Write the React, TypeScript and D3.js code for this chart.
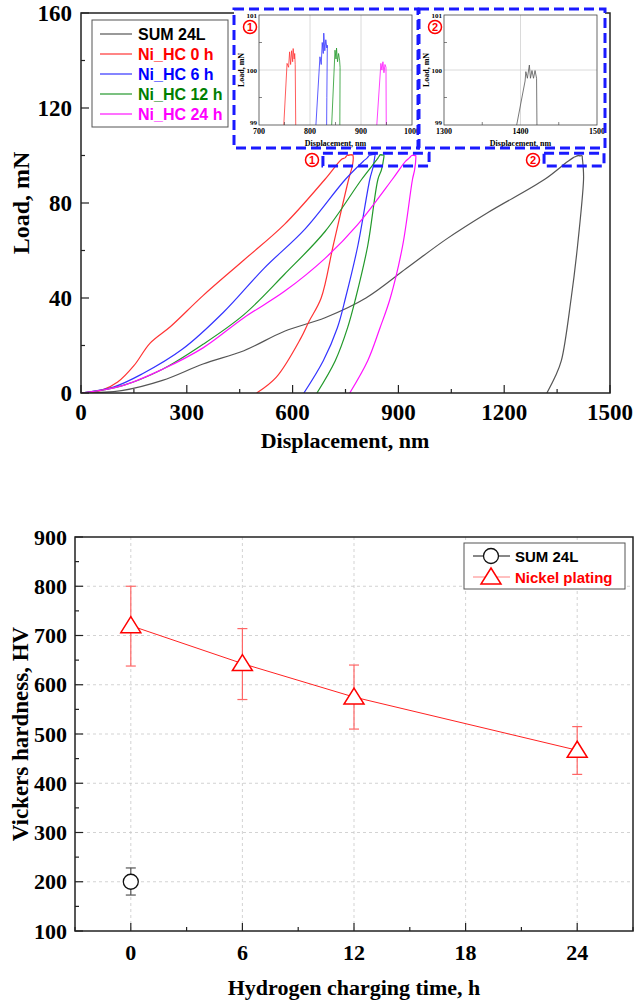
import React, { useEffect, useRef } from 'react';
import * as d3 from 'd3';

type Pt = [number, number];

// load-displacement curves (nm, mN), loading -> peak -> unloading
const sum24L: Pt[] = [
  [0, 0], [115, 1], [231, 5.3], [346, 12.2], [462, 17.8], [577, 26], [692, 31.7], [808, 40],
  [923, 52.5], [1038, 65], [1154, 76], [1315, 90], [1380, 97.5], [1395, 99], [1406, 99.8],
  [1407, 99.97], [1409, 99.85], [1411.6, 100.09], [1413, 99.85], [1415, 99.99], [1417, 99.85],
  [1419, 99.99], [1421, 99.85], [1421.5, 99], [1424, 95], [1425, 90], [1408, 62], [1390, 40],
  [1362, 13.6], [1344, 6.7], [1321, 0],
];
const niHC0: Pt[] = [
  [0, 0], [58, 1.1], [104, 4.6], [150, 11.5], [196, 21], [254, 28], [346, 41], [462, 56],
  [577, 71], [692, 90], [740, 98.5], [748.6, 99], [755, 100.12], [758, 100.05], [760, 100.33],
  [762, 100.1], [764, 100.35], [766, 100.15], [767, 100.39], [769, 100.2], [770, 100.3],
  [771, 100.1], [772, 99], [770, 96], [759, 90], [715, 62], [681, 40], [646, 30], [623, 23],
  [554, 6.7], [498, 0],
];
const niHC6: Pt[] = [
  [0, 0], [92, 2.5], [173, 8], [288, 18.5], [404, 34], [519, 52.5], [635, 69], [750, 90],
  [800, 97.5], [811.6, 99], [819.5, 100.24], [822, 100.1], [824, 100.5], [826, 100.3],
  [827, 100.67], [829, 100.35], [831, 100.55], [833, 100.4], [834, 100.45], [833, 99.5],
  [832.6, 99], [828, 95], [819, 90], [785, 62], [750, 40], [727, 27.5], [687, 13.6], [632, 0],
];
const niHC12: Pt[] = [
  [0, 0], [115, 3], [231, 10], [346, 20.5], [462, 33], [577, 50], [692, 68], [796, 90],
  [835, 97.5], [842.5, 99], [849, 100.36], [851, 100.2], [852, 100.4], [854, 100.15],
  [856, 100.3], [858, 100.18], [859, 100.05], [858.5, 99], [852, 94], [842, 90], [813, 62],
  [779, 40], [756, 27.5], [721, 13.6], [669, 0],
];
const niHC24: Pt[] = [
  [0, 0], [115, 3], [231, 10], [346, 19], [462, 31.7], [577, 42.8], [692, 56.7], [785, 71],
  [883, 90], [920, 97.5], [931, 99], [939, 100.12], [941, 100.0], [943, 100.15], [945, 99.95],
  [947, 100.1], [949, 100.05], [949.5, 99], [946, 94], [940, 90], [912, 62], [877, 40],
  [848, 27.5], [813, 13.6], [762, 0],
];
const curveNames = ['SUM 24L', 'Ni_HC 0 h', 'Ni_HC 6 h', 'Ni_HC 12 h', 'Ni_HC 24 h'];
const curveData = [sum24L, niHC0, niHC6, niHC12, niHC24];
const curveColors = ['#555555', '#ff3333', '#3333ff', '#22992a', '#ff11ff'];
const legendColors = ['#000000', '#ff0000', '#0000ff', '#008000', '#ff00ff'];

// hardness
const chargeTime = [0, 6, 12, 24];
const nickelHV = [720, 643, 575, 467];
const nickelLow = [638, 570, 510, 418];
const nickelHigh = [800, 714, 640, 515];
const sumTime = [0];
const sumHV = [200];
const sumLow = [173];
const sumHigh = [228];

const serif = '"Liberation Serif", "Times New Roman", serif';
const sans = '"Liberation Sans", Arial, sans-serif';

const App: React.FC = () => {
  const svgRef = useRef<SVGSVGElement>(null);

  useEffect(() => {
    if (!svgRef.current) return;
    const svg = d3.select(svgRef.current);
    svg.selectAll('*').remove();

    // ---------- top: load-displacement ----------
    const x = d3.scaleLinear().domain([0, 1500]).range([81, 610]);
    const y = d3.scaleLinear().domain([0, 160]).range([393, 13]);
    const top = svg.append('g');

    top.append('clipPath').attr('id', 'mainclip').append('rect')
      .attr('x', 81).attr('y', 13).attr('width', 529).attr('height', 380);

    const line = d3.line<Pt>().x(d => x(d[0])).y(d => y(d[1])).curve(d3.curveCatmullRom.alpha(0.5));
    curveData.forEach((c, i) => {
      top.append('path').attr('d', line(c) || '').attr('fill', 'none')
        .attr('stroke', curveColors[i]).attr('stroke-width', 1.2)
        .attr('clip-path', 'url(#mainclip)');
    });

    // ticks (inward)
    d3.range(0, 1501, 150).forEach(v => {
      const major = v % 300 === 0;
      top.append('line').attr('x1', x(v)).attr('x2', x(v)).attr('y1', 393).attr('y2', 393 - (major ? 8 : 4))
        .attr('stroke', '#222').attr('stroke-width', 1.2);
      if (major) top.append('text').attr('x', x(v)).attr('y', 420).attr('text-anchor', 'middle')
        .attr('font-family', serif).attr('font-weight', 'bold').attr('font-size', 23).text(v);
    });
    d3.range(0, 161, 20).forEach(v => {
      const major = v % 40 === 0;
      top.append('line').attr('x1', 81).attr('x2', 81 + (major ? 8 : 4)).attr('y1', y(v)).attr('y2', y(v))
        .attr('stroke', '#222').attr('stroke-width', 1.2);
      if (major) top.append('text').attr('x', 72).attr('y', y(v) + 8).attr('text-anchor', 'end')
        .attr('font-family', serif).attr('font-weight', 'bold').attr('font-size', 23).text(v);
    });
    top.append('rect').attr('x', 81).attr('y', 13).attr('width', 529).attr('height', 380)
      .attr('fill', 'none').attr('stroke', '#222').attr('stroke-width', 1.5);

    top.append('text').attr('x', 345).attr('y', 448).attr('text-anchor', 'middle')
      .attr('font-family', serif).attr('font-weight', 'bold').attr('font-size', 22).text('Displacement, nm');
    top.append('text').attr('transform', 'translate(29,203) rotate(-90)').attr('text-anchor', 'middle')
      .attr('font-family', serif).attr('font-weight', 'bold').attr('font-size', 24).text('Load, mN');

    // legend
    top.append('rect').attr('x', 92).attr('y', 20).attr('width', 136).attr('height', 107)
      .attr('fill', 'white').attr('stroke', '#555').attr('stroke-width', 1);
    curveNames.forEach((n, i) => {
      const ly = 34 + i * 20;
      top.append('line').attr('x1', 100).attr('x2', 132).attr('y1', ly).attr('y2', ly)
        .attr('stroke', curveColors[i]).attr('stroke-width', 1.2);
      top.append('text').attr('x', 138).attr('y', ly + 6).attr('font-family', sans)
        .attr('font-weight', 'bold').attr('font-size', 16).attr('fill', legendColors[i]).text(n);
    });

    const circled = (cx: number, cy: number, label: string) => {
      top.append('circle').attr('cx', cx).attr('cy', cy).attr('r', 6.5)
        .attr('fill', 'white').attr('stroke', '#ff0000').attr('stroke-width', 1.5);
      top.append('text').attr('x', cx).attr('y', cy + 4).attr('text-anchor', 'middle')
        .attr('font-family', sans).attr('font-weight', 'bold').attr('font-size', 11)
        .attr('fill', '#ff0000').text(label);
    };
    const blueDash = (x0: number, y0: number, x1: number, y1: number) => {
      top.append('rect').attr('x', x0).attr('y', y0).attr('width', x1 - x0).attr('height', y1 - y0)
        .attr('fill', 'none').attr('stroke', '#1a1aff').attr('stroke-width', 3)
        .attr('stroke-dasharray', '10,5');
    };

    // zoom markers on main plot
    blueDash(x(686), y(101), x(987), y(95.6));
    circled(312, 160, '1');
    blueDash(x(1313), y(101), x(1483), y(95.6));
    circled(533, 160, '2');

    // insets
    const inset = (bx0: number, bx1: number, id: string, domain: [number, number],
      xticks: number[], xminor: number[], grid: number[], label: string) => {
      const g = top.append('g');
      g.append('rect').attr('x', bx0).attr('y', 9).attr('width', bx1 - bx0).attr('height', 139)
        .attr('fill', 'white');
      const px0 = bx0 + 25, px1 = bx0 + 178;
      const ix = d3.scaleLinear().domain(domain).range([px0, px1]);
      const iy = d3.scaleLinear().domain([99, 101]).range([125, 15]);
      g.append('clipPath').attr('id', id).append('rect')
        .attr('x', px0).attr('y', 15).attr('width', px1 - px0).attr('height', 110);
      grid.forEach(v => g.append('line').attr('x1', ix(v)).attr('x2', ix(v)).attr('y1', 15).attr('y2', 125)
        .attr('stroke', '#d0d0d0').attr('stroke-width', 0.8));
      g.append('line').attr('x1', px0).attr('x2', px1).attr('y1', iy(100)).attr('y2', iy(100))
        .attr('stroke', '#d0d0d0').attr('stroke-width', 0.8);
      const il = d3.line<Pt>().x(d => ix(d[0])).y(d => iy(d[1]));
      curveData.forEach((c, i) => {
        g.append('path').attr('d', il(c) || '').attr('fill', 'none')
          .attr('stroke', curveColors[i]).attr('stroke-width', 0.8)
          .attr('clip-path', `url(#${id})`);
      });
      xminor.forEach(v => g.append('line').attr('x1', ix(v)).attr('x2', ix(v)).attr('y1', 125).attr('y2', 122)
        .attr('stroke', '#333').attr('stroke-width', 0.6));
      [99.5, 100.5].forEach(v => g.append('line').attr('x1', px0).attr('x2', px0 + 3).attr('y1', iy(v)).attr('y2', iy(v))
        .attr('stroke', '#333').attr('stroke-width', 0.6));
      xticks.forEach(v => g.append('text').attr('x', ix(v)).attr('y', 134).attr('text-anchor', 'middle')
        .attr('font-family', serif).attr('font-weight', 'bold').attr('font-size', 8).text(v));
      [99, 100, 101].forEach(v => g.append('text').attr('x', px0 - 2).attr('y', iy(v) + (v === 99 ? 0 : 3))
        .attr('text-anchor', 'end').attr('font-family', serif).attr('font-weight', 'bold')
        .attr('font-size', 7).text(v));
      g.append('rect').attr('x', px0).attr('y', 15).attr('width', px1 - px0).attr('height', 110)
        .attr('fill', 'none').attr('stroke', '#444').attr('stroke-width', 0.8);
      g.append('text').attr('x', (px0 + px1) / 2).attr('y', 146).attr('text-anchor', 'middle')
        .attr('font-family', serif).attr('font-weight', 'bold').attr('font-size', 8).text('Displacement, nm');
      g.append('text').attr('transform', `translate(${bx0 + 10},70) rotate(-90)`).attr('text-anchor', 'middle')
        .attr('font-family', serif).attr('font-weight', 'bold').attr('font-size', 8).text('Load, mN');
      blueDash(bx0, 9, bx1, 148);
      circled(bx0 + 16, 27, label);
    };
    inset(234, 418, 'in1', [700, 1000], [700, 800, 900, 1000], [750, 850, 950], [800, 900], '1');
    inset(419, 605, 'in2', [1300, 1500], [1300, 1400, 1500], [1350, 1450], [1400], '2');

    // ---------- bottom: hardness ----------
    const bx = d3.scaleLinear().domain([-3, 27]).range([75, 633]);
    const by = d3.scaleLinear().domain([100, 900]).range([931, 537]);
    const bot = svg.append('g');

    [0, 6, 12, 18, 24].forEach(v => bot.append('line').attr('x1', bx(v)).attr('x2', bx(v))
      .attr('y1', 537).attr('y2', 931).attr('stroke', '#c8c8c8').attr('stroke-width', 0.8)
      .attr('stroke-dasharray', '3,3'));
    d3.range(200, 900, 100).forEach(v => bot.append('line').attr('x1', 75).attr('x2', 633)
      .attr('y1', by(v)).attr('y2', by(v)).attr('stroke', '#c8c8c8').attr('stroke-width', 0.8)
      .attr('stroke-dasharray', '3,3'));

    d3.range(-3, 28, 3).forEach(v => {
      const major = v % 6 === 0;
      bot.append('line').attr('x1', bx(v)).attr('x2', bx(v)).attr('y1', 931).attr('y2', 931 - (major ? 8 : 4))
        .attr('stroke', '#222').attr('stroke-width', 1.2);
      if (major && v >= 0 && v <= 24) bot.append('text').attr('x', bx(v)).attr('y', 960).attr('text-anchor', 'middle')
        .attr('font-family', serif).attr('font-weight', 'bold').attr('font-size', 22).text(v);
    });
    d3.range(100, 901, 50).forEach(v => {
      const major = v % 100 === 0;
      bot.append('line').attr('x1', 75).attr('x2', 75 + (major ? 8 : 4)).attr('y1', by(v)).attr('y2', by(v))
        .attr('stroke', '#222').attr('stroke-width', 1.2);
      if (major) bot.append('text').attr('x', 67).attr('y', by(v) + 7.5).attr('text-anchor', 'end')
        .attr('font-family', serif).attr('font-weight', 'bold').attr('font-size', 22).text(v);
    });
    bot.append('rect').attr('x', 75).attr('y', 537).attr('width', 558).attr('height', 394)
      .attr('fill', 'none').attr('stroke', '#222').attr('stroke-width', 1.5);

    bot.append('text').attr('x', 354).attr('y', 995).attr('text-anchor', 'middle')
      .attr('font-family', serif).attr('font-weight', 'bold').attr('font-size', 22)
      .text('Hydrogen charging time, h');
    bot.append('text').attr('transform', 'translate(28,734) rotate(-90)').attr('text-anchor', 'middle')
      .attr('font-family', serif).attr('font-weight', 'bold').attr('font-size', 23)
      .text('Vickers hardness, HV');

    const triPath = 'M0,-9L10,7L-10,7Z';
    const errBar = (xv: number, lo: number, hi: number, color: string) => {
      const cx = bx(xv);
      bot.append('line').attr('x1', cx).attr('x2', cx).attr('y1', by(lo)).attr('y2', by(hi))
        .attr('stroke', color).attr('stroke-width', 1.2);
      [lo, hi].forEach(v => bot.append('line').attr('x1', cx - 5).attr('x2', cx + 5)
        .attr('y1', by(v)).attr('y2', by(v)).attr('stroke', color).attr('stroke-width', 1.2));
    };

    chargeTime.forEach((t, i) => errBar(t, nickelLow[i], nickelHigh[i], '#ff6666'));
    sumTime.forEach((t, i) => errBar(t, sumLow[i], sumHigh[i], '#555555'));

    const nline = d3.line<number>().x((d, i) => bx(chargeTime[i])).y(d => by(d));
    bot.append('path').attr('d', nline(nickelHV) || '').attr('fill', 'none')
      .attr('stroke', '#ff2222').attr('stroke-width', 1);

    nickelHV.forEach((v, i) => bot.append('path').attr('d', triPath)
      .attr('transform', `translate(${bx(chargeTime[i])},${by(v)})`)
      .attr('fill', 'white').attr('stroke', '#ff0000').attr('stroke-width', 1.5));
    sumHV.forEach((v, i) => bot.append('circle').attr('cx', bx(sumTime[i])).attr('cy', by(v)).attr('r', 7.5)
      .attr('fill', 'white').attr('stroke', '#111').attr('stroke-width', 1.3));

    // legend
    bot.append('rect').attr('x', 464).attr('y', 543).attr('width', 161).attr('height', 46)
      .attr('fill', 'white').attr('stroke', '#555').attr('stroke-width', 1);
    bot.append('line').attr('x1', 473).attr('x2', 510).attr('y1', 556).attr('y2', 556)
      .attr('stroke', '#111').attr('stroke-width', 1);
    bot.append('circle').attr('cx', 491).attr('cy', 556).attr('r', 7.5)
      .attr('fill', 'white').attr('stroke', '#111').attr('stroke-width', 1.3);
    bot.append('text').attr('x', 515).attr('y', 562).attr('font-family', sans).attr('font-weight', 'bold')
      .attr('font-size', 15).attr('fill', '#000').text('SUM 24L');
    bot.append('line').attr('x1', 473).attr('x2', 510).attr('y1', 577).attr('y2', 577)
      .attr('stroke', '#ff8080').attr('stroke-width', 1);
    bot.append('path').attr('d', triPath).attr('transform', 'translate(491,577)')
      .attr('fill', 'white').attr('stroke', '#ff0000').attr('stroke-width', 1.5);
    bot.append('text').attr('x', 515).attr('y', 583).attr('font-family', sans).attr('font-weight', 'bold')
      .attr('font-size', 15).attr('fill', '#ff0000').text('Nickel plating');
  }, []);

  return (
    <div style={{ position: 'absolute', left: 0, top: 0 }}>
      <svg ref={svgRef} width={636} height={1000} style={{ display: 'block', background: 'white' }}></svg>
    </div>
  );
};

export default App;
